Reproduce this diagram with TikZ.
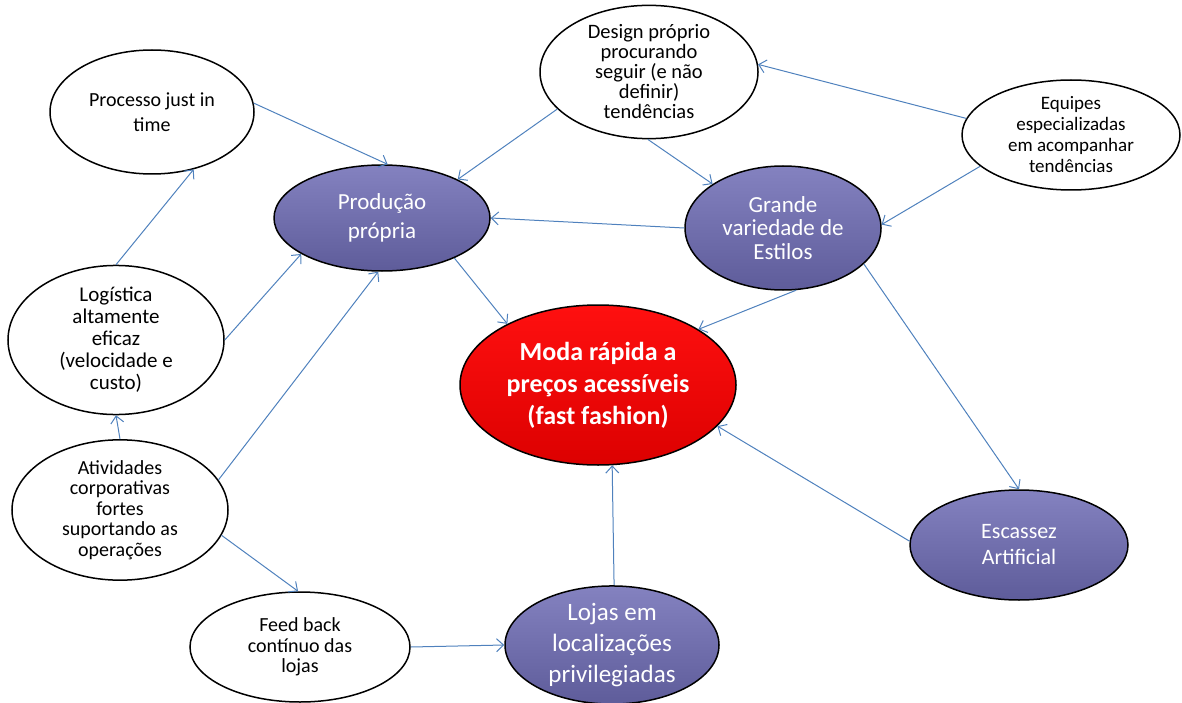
\documentclass[tikz,border=0pt]{standalone}
\usepackage{fontspec}
\setmainfont{Carlito}
\usepackage{tikz}
\usetikzlibrary{arrows.meta}
\usetikzlibrary{shapes.geometric}

\definecolor{linkblue}{HTML}{4F81BD}
\definecolor{lavtop}{HTML}{8482C0}
\definecolor{lavbot}{HTML}{5E5C9A}
\definecolor{redtop}{HTML}{FF1010}
\definecolor{redbot}{HTML}{DC0000}
\pgfdeclareradialshading{rimgray}{\pgfpoint{1bp}{2bp}}{color(0bp)=(white); color(29bp)=(white); color(35bp)=(black!45); color(50bp)=(black!45)}

\tikzset{
  idea/.style={ellipse, draw=black, line width=1.5pt, shading=rimgray, align=center, inner sep=0pt,
    font=\fontsize{20}{20.5}\selectfont},
  pillar/.style={ellipse, draw=black, line width=1.5pt, top color=lavtop, bottom color=lavbot, text=white,
    align=center, inner sep=0pt, font=\fontsize{23}{29}\selectfont},
  goal/.style={ellipse, draw=black, line width=1.5pt, top color=redtop, bottom color=redbot, text=white,
    align=center, inner sep=0pt, font=\fontsize{26}{32}\selectfont\bfseries},
  link/.style={draw=linkblue, line width=1pt, -{Straight Barb[length=7pt,width=13pt]}}
}

\begin{document}
\begin{tikzpicture}[x=1pt,y=-1pt]
\useasboundingbox (0,0) rectangle (1182,703);

% ideias de apoio
\node[idea, minimum width=204pt, minimum height=124pt, font=\fontsize{20}{25}\selectfont] (jit) at (152,112) {Processo just in\\time};
\node[idea, minimum width=218pt, minimum height=126pt, font=\fontsize{20.5}{20}\selectfont] (design) at (649,72) {Design próprio\\procurando\\seguir (e não\\definir)\\tendências};
\node[idea, minimum width=218pt, minimum height=110pt, font=\fontsize{19}{21}\selectfont] (equipes) at (1071,135) {Equipes\\especializadas\\em acompanhar\\tendências};
\node[idea, minimum width=216pt, minimum height=120pt, font=\fontsize{21}{22}\selectfont] (logistica) at (116,340) {Logística\\altamente\\eficaz\\(velocidade e\\custo)};
\node[idea, minimum width=216pt, minimum height=140pt] (atividades) at (120,510) {Atividades\\corporativas\\fortes\\suportando as\\operações};
\node[idea, minimum width=220pt, minimum height=110pt] (feedback) at (300,647) {Feed back\\contínuo das\\lojas};

% pilares
\node[pillar, minimum width=216pt, minimum height=106pt] (producao) at (382,218) {Produção\\própria};
\node[pillar, minimum width=196pt, minimum height=124pt, font=\fontsize{23}{23.5}\selectfont] (variedade) at (783,228) {Grande\\variedade de\\Estilos};
\node[pillar, minimum width=218pt, minimum height=110pt, font=\fontsize{22}{26}\selectfont] (escassez) at (1019,545) {Escassez\\Artificial};
\node[pillar, minimum width=214pt, minimum height=110pt, font=\fontsize{25}{31}\selectfont] (lojas) at (612,645) {Lojas em\\localizações\\privilegiadas};

% centro
\node[goal, minimum width=276pt, minimum height=160pt] (moda) at (598,385) {Moda rápida a\\preços acessíveis\\(fast fashion)};

% ligacoes
\draw[link] (jit.5) -- (producao.84);
\draw[link] (design.202) -- (producao.27);
\draw[link] (design.269) -- (variedade.148);
\draw[link] (equipes.171) -- (design.4);
\draw[link] (equipes.199) -- (variedade.2);
\draw[link] (variedade.west) -- (producao.east);
\draw[link] (producao.331) -- (moda.146);
\draw[link] (variedade.282) -- (moda.29);
\draw[link] (variedade.336) -- (escassez.north);
\draw[link] (escassez.178) -- (moda.341);
\draw[link] (lojas.88) -- (moda.280);
\draw[link] (feedback.east) -- (lojas.west);
\draw[link] (atividades.346) -- (feedback.92);
\draw[link] (atividades.north) -- (logistica.south);
\draw[link] (atividades.17) -- (producao.266);
\draw[link] (logistica.east) -- (producao.204);
\draw[link] (logistica.90) -- (jit.306);
\end{tikzpicture}
\end{document}
